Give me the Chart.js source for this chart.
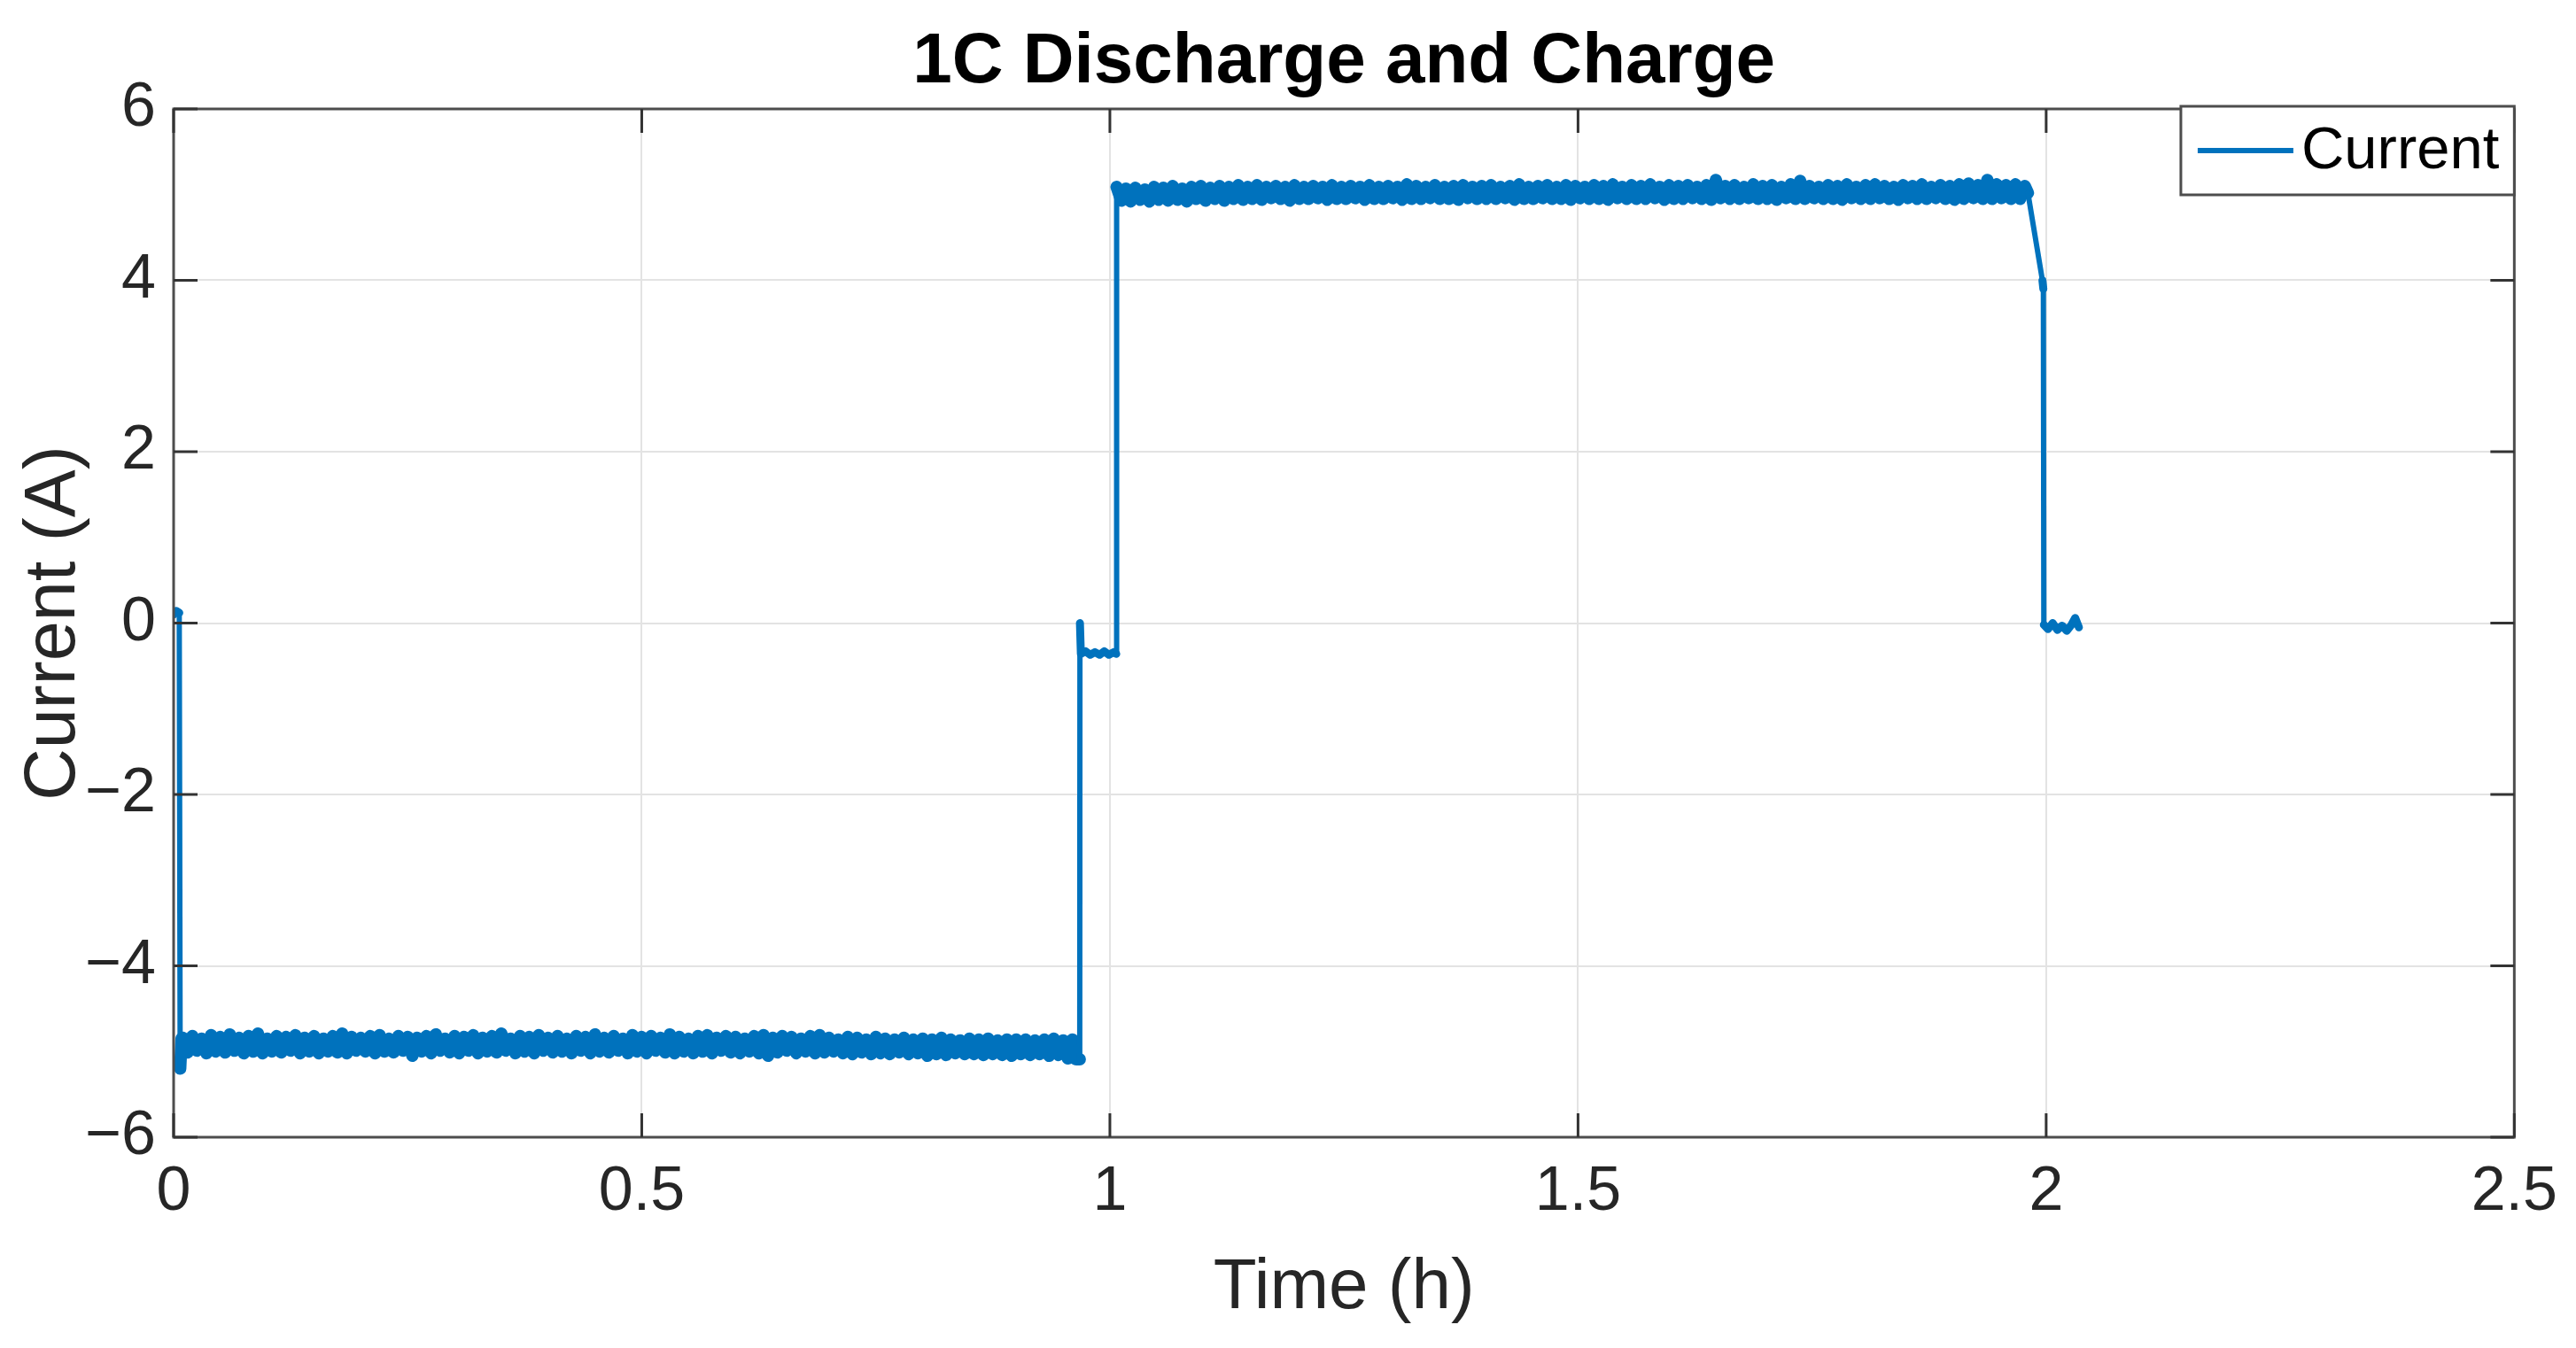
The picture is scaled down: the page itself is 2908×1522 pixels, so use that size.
<!DOCTYPE html>
<html lang="en">

<head>
    <meta charset="UTF-8">
    <title>1C Discharge and Charge</title>
    <script src="https://cdn.jsdelivr.net/npm/chart.js"></script>
    <style>
        html, body { margin: 0; padding: 0; background: #fff; }
        #wrap { width: 2908px; height: 1522px; }
    </style>
</head>

<body>
    <div id="wrap">
        <canvas id="currentChart"></canvas>
    </div>

    <script>
        // time in hours, current in amps
        var chartTitle = '1C Discharge and Charge';
        var sampleStep = 0.005;

        var startTimes = [0, 0.003, 0.006, 0.007, 0.0085];
        var startCurrent = [0.10, 0.14, 0.12, -5.20, -4.85];

        var dischargeStart = 0.010;
        var dischargeCurrent = [
            -4.84, -5.01, -4.82, -4.99, -4.85, -5.02, -4.81, -5.00, -4.83, -5.01,
            -4.80, -4.99, -4.84, -5.02, -4.82, -5.00, -4.79, -5.02, -4.85, -5.00,
            -4.82, -5.01, -4.83, -4.99, -4.81, -5.02, -4.84, -5.00, -4.82, -5.02,
            -4.85, -5.00, -4.82, -5.01, -4.79, -5.02, -4.83, -4.99, -4.84, -5.00,
            -4.82, -5.02, -4.81, -5.00, -4.85, -5.01, -4.82, -4.99, -4.83, -5.05,
            -4.84, -5.00, -4.82, -5.02, -4.80, -4.99, -4.85, -5.01, -4.82, -5.02,
            -4.83, -4.99, -4.81, -5.02, -4.84, -5.00, -4.82, -5.01, -4.79, -4.99,
            -4.85, -5.02, -4.82, -5.00, -4.83, -5.02, -4.81, -4.99, -4.84, -5.01,
            -4.82, -5.00, -4.85, -5.02, -4.82, -4.99, -4.83, -5.02, -4.80, -5.00,
            -4.84, -5.01, -4.82, -4.99, -4.85, -5.02, -4.81, -5.00, -4.83, -5.02,
            -4.82, -4.99, -4.84, -5.01, -4.80, -5.02, -4.83, -5.00, -4.85, -5.02,
            -4.82, -5.00, -4.81, -5.02, -4.84, -4.99, -4.82, -5.01, -4.83, -5.02,
            -4.85, -5.00, -4.82, -5.02, -4.81, -5.05, -4.84, -5.01, -4.82, -4.99,
            -4.83, -5.02, -4.85, -5.00, -4.82, -5.02, -4.81, -5.01, -4.84, -5.00,
            -4.86, -5.02, -4.83, -5.03, -4.84, -5.01, -4.86, -5.03, -4.83, -5.02,
            -4.85, -5.03, -4.86, -5.01, -4.84, -5.03, -4.86, -5.02, -4.85, -5.05,
            -4.86, -5.03, -4.84, -5.04, -4.86, -5.02, -4.87, -5.03, -4.85, -5.03,
            -4.86, -5.04, -4.85, -5.03, -4.87, -5.04, -4.86, -5.05, -4.86, -5.03,
            -4.86, -5.04, -4.87, -5.03, -4.86, -5.05, -4.85, -5.04, -4.87, -5.08
        ];

        var restTimes = [0.960, 0.964, 0.9678, 0.9680, 0.9690, 0.9740, 0.9790, 0.9840, 0.9890, 0.9940, 0.9990, 1.0040, 1.0068];
        var restCurrent = [-4.86, -5.09, -5.09, 0.00, -0.36, -0.33, -0.37, -0.34, -0.37, -0.33, -0.37, -0.34, -0.36];

        var chargeStart = 1.0072;
        var chargeCurrent = [
            5.09, 4.93, 5.07, 4.92, 5.08, 4.94, 5.06, 4.92, 5.09, 4.94,
            5.08, 4.93, 5.10, 4.94, 5.07, 4.92, 5.09, 4.95, 5.10, 4.93,
            5.08, 4.95, 5.10, 4.93, 5.09, 4.95, 5.11, 4.94, 5.09, 4.95,
            5.11, 4.94, 5.09, 4.96, 5.10, 4.95, 5.09, 4.93, 5.11, 4.95,
            5.09, 4.95, 5.10, 4.96, 5.09, 4.94, 5.11, 4.95, 5.09, 4.95,
            5.10, 4.96, 5.09, 4.94, 5.11, 4.95, 5.09, 4.95, 5.10, 4.96,
            5.09, 4.94, 5.12, 4.95, 5.10, 4.95, 5.09, 4.96, 5.11, 4.95,
            5.09, 4.95, 5.10, 4.94, 5.11, 4.96, 5.09, 4.95, 5.10, 4.95,
            5.11, 4.95, 5.09, 4.96, 5.10, 4.94, 5.12, 4.95, 5.09, 4.95,
            5.10, 4.96, 5.11, 4.95, 5.09, 4.95, 5.11, 4.94, 5.10, 4.96,
            5.09, 4.95, 5.11, 4.95, 5.10, 4.94, 5.12, 4.96, 5.09, 4.95,
            5.11, 4.95, 5.10, 4.95, 5.12, 4.96, 5.09, 4.94, 5.11, 4.95,
            5.10, 4.95, 5.11, 4.96, 5.09, 4.95, 5.11, 4.94, 5.17, 4.96,
            5.10, 4.95, 5.11, 4.95, 5.09, 4.96, 5.12, 4.95, 5.10, 4.95,
            5.11, 4.94, 5.09, 4.96, 5.12, 4.95, 5.16, 4.95, 5.10, 4.96,
            5.09, 4.95, 5.11, 4.95, 5.10, 4.94, 5.12, 4.96, 5.09, 4.95,
            5.11, 4.95, 5.12, 4.96, 5.10, 4.95, 5.09, 4.94, 5.11, 4.96,
            5.10, 4.95, 5.12, 4.95, 5.09, 4.96, 5.11, 4.95, 5.10, 4.94,
            5.12, 4.95, 5.13, 4.96, 5.11, 4.95, 5.17, 4.95, 5.12, 4.96,
            5.11, 4.95, 5.12, 4.95, 5.10
        ];

        var endTimes = [1.9805, 1.9960, 1.9970, 1.9975, 2.002, 2.007, 2.012, 2.017, 2.022, 2.027, 2.031, 2.035];
        var endCurrent = [5.02, 4.00, 3.90, -0.02, -0.07, 0.00, -0.08, -0.03, -0.09, -0.02, 0.06, -0.05];

        var xTickStep = 0.5;
        var yTickStep = 2;

        var points = [];
        startTimes.forEach(function (t, i) { points.push({ x: t, y: startCurrent[i] }); });
        dischargeCurrent.forEach(function (c, i) { points.push({ x: dischargeStart + i * sampleStep, y: c }); });
        restTimes.forEach(function (t, i) { points.push({ x: t, y: restCurrent[i] }); });
        chargeCurrent.forEach(function (c, i) { points.push({ x: chargeStart + i * sampleStep, y: c }); });
        endTimes.forEach(function (t, i) { points.push({ x: t, y: endCurrent[i] }); });

        var FONT = "'Liberation Sans', Arial, Helvetica, sans-serif";
        var AXIS_COLOR = '#4d4d4d';
        var TEXT_COLOR = '#262626';
        var LINE_BLUE = '#0072BD';

        // title centred over the plot box, not the whole canvas
        var titlePlugin = {
            id: 'boxTitle',
            afterDraw: function (chart) {
                var ctx = chart.ctx;
                var a = chart.chartArea;
                ctx.save();
                ctx.font = 'bold 80px ' + FONT;
                ctx.fillStyle = '#000';
                ctx.textAlign = 'center';
                ctx.textBaseline = 'alphabetic';
                ctx.fillText(chartTitle, (a.left + a.right) / 2, a.top - 30);
                ctx.restore();
            }
        };

        // box around the axes and inward ticks on all four sides
        var boxPlugin = {
            id: 'box',
            afterDatasetsDraw: function (chart) {
                var ctx = chart.ctx;
                var a = chart.chartArea;
                var xs = chart.scales.x, ys = chart.scales.y;
                var len = 27;
                ctx.save();
                ctx.strokeStyle = AXIS_COLOR;
                ctx.lineWidth = 3;
                ctx.strokeRect(a.left, a.top, a.right - a.left, a.bottom - a.top);
                ctx.strokeStyle = '#333';
                ctx.beginPath();
                xs.ticks.forEach(function (t) {
                    var px = xs.getPixelForValue(t.value);
                    ctx.moveTo(px, a.bottom); ctx.lineTo(px, a.bottom - len);
                    ctx.moveTo(px, a.top); ctx.lineTo(px, a.top + len);
                });
                ys.ticks.forEach(function (t) {
                    var py = ys.getPixelForValue(t.value);
                    ctx.moveTo(a.left, py); ctx.lineTo(a.left + len, py);
                    ctx.moveTo(a.right, py); ctx.lineTo(a.right - len, py);
                });
                ctx.stroke();
                ctx.restore();
            }
        };

        // matlab style legend box in the top right corner
        var legendPlugin = {
            id: 'boxLegend',
            afterDraw: function (chart) {
                var ctx = chart.ctx;
                var a = chart.chartArea;
                var ds = chart.data.datasets[0];
                ctx.save();
                ctx.font = '67px ' + FONT;
                var tw = ctx.measureText(ds.label).width;
                var w = 19 + 108 + 9 + tw + 17;
                var h = 100;
                var x0 = a.right - w, y0 = a.top - 3;
                ctx.fillStyle = '#fff';
                ctx.fillRect(x0, y0, w, h);
                ctx.strokeStyle = AXIS_COLOR;
                ctx.lineWidth = 3;
                ctx.strokeRect(x0, y0, w, h);
                ctx.strokeStyle = ds.borderColor;
                ctx.lineWidth = 6;
                ctx.beginPath();
                ctx.moveTo(x0 + 19, y0 + 50);
                ctx.lineTo(x0 + 127, y0 + 50);
                ctx.stroke();
                ctx.fillStyle = '#000';
                ctx.textBaseline = 'middle';
                ctx.fillText(ds.label, x0 + 136, y0 + 52);
                ctx.restore();
            }
        };

        // noisy stretches are drawn thicker so the samples read as a solid band
        function bandWidth(ctx) {
            var y0 = ctx.p0.parsed.y, y1 = ctx.p1.parsed.y;
            if (Math.abs(y1 - y0) >= 0.5) return 6;
            return Math.abs(y0) > 4 ? 14 : 9;
        }

        var currentChart = new Chart(document.getElementById('currentChart').getContext('2d'), {
            type: 'line',
            data: {
                datasets: [{
                    label: 'Current',
                    data: points,
                    borderColor: LINE_BLUE,
                    borderWidth: 6,
                    borderJoinStyle: 'round',
                    borderCapStyle: 'round',
                    pointRadius: 0,
                    fill: false,
                    tension: 0,
                    segment: { borderWidth: bandWidth }
                }]
            },
            options: {
                responsive: true,
                maintainAspectRatio: false,
                animation: false,
                layout: { padding: { left: 0, right: 65, top: 123, bottom: 0 } },
                plugins: {
                    legend: { display: false },
                    tooltip: { enabled: false },
                    title: { display: false }
                },
                scales: {
                    x: {
                        type: 'linear',
                        min: 0,
                        max: 2.5,
                        afterFit: function (scale) { scale.height = 238; },
                        ticks: {
                            stepSize: xTickStep,
                            color: TEXT_COLOR,
                            font: { family: FONT, size: 70 },
                            padding: 21,
                            maxRotation: 0,
                            callback: function (v) { return String(v); }
                        },
                        grid: { color: '#e3e3e3', lineWidth: 2, drawTicks: false },
                        border: { display: false },
                        title: {
                            display: true,
                            text: 'Time (h)',
                            color: TEXT_COLOR,
                            font: { family: FONT, size: 80 },
                            padding: { top: 0, bottom: 19 }
                        }
                    },
                    y: {
                        min: -6,
                        max: 6,
                        afterFit: function (scale) { scale.width = 196; },
                        ticks: {
                            stepSize: yTickStep,
                            color: TEXT_COLOR,
                            font: { family: FONT, size: 70 },
                            padding: 20,
                            callback: function (v) { return v < 0 ? '\u2212' + Math.abs(v) : String(v); }
                        },
                        grid: { color: '#e3e3e3', lineWidth: 2, drawTicks: false },
                        border: { display: false },
                        title: {
                            display: true,
                            text: 'Current (A)',
                            color: TEXT_COLOR,
                            font: { family: FONT, size: 81 },
                            padding: { top: 13, bottom: 0 }
                        }
                    }
                }
            },
            plugins: [boxPlugin, legendPlugin, titlePlugin]
        });
    </script>
</body>

</html>
